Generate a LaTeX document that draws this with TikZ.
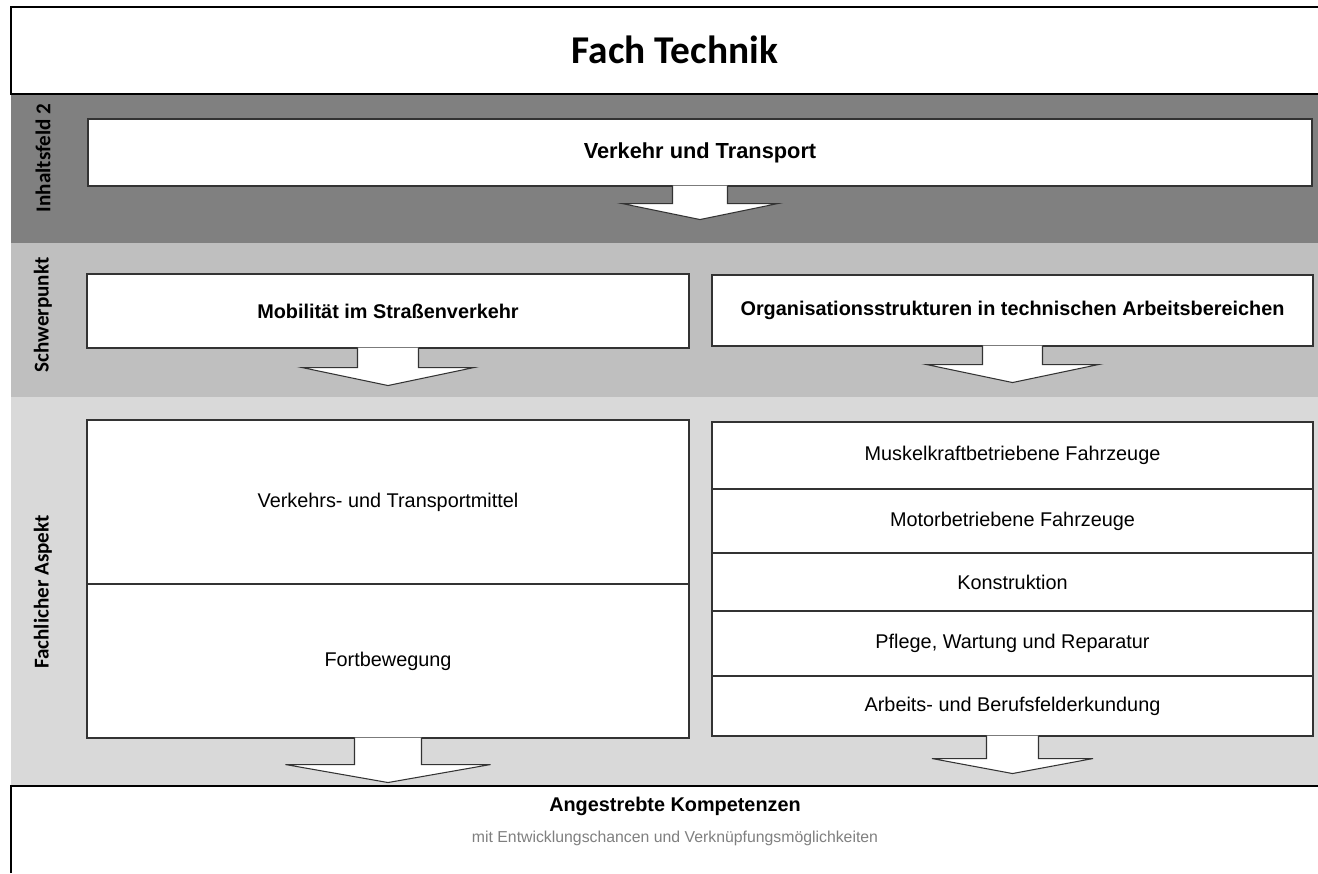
\documentclass[tikz,border=0pt]{standalone}
\usepackage{fontspec}
\setmainfont{Liberation Sans}
\newfontfamily\calibri{Carlito}
\usetikzlibrary{fit,calc}

\definecolor{bandDark}{HTML}{808080}
\definecolor{bandMid}{HTML}{BFBFBF}
\definecolor{bandLight}{HTML}{D9D9D9}
\definecolor{subGray}{HTML}{7F7F7F}

% box with an open arrow below: node, shaft half width, shaft length, head half width, head length
\newcommand{\boxarrow}[5]{%
  \draw[outline, fill=white] ($(#1.south)+(-#2,-0.8)$) -- ++(0,{#3+0.8}) -- ++({#2-#4},0)
    -- ($(#1.south)+(0,{#3+#5})$) -- ($(#1.south)+(#4,#3)$) -- ++({#2-#4},0) -- ++(0,{-#3-0.8});
}

\begin{document}
\begin{tikzpicture}[x=0.02cm, y=-0.02cm,
    frame/.style = {draw=black, line width=0.7pt},
    outline/.style = {draw=black!80, line width=0.6pt},
    box/.style = {outline, fill=white, inner sep=0pt},
    boldtxt/.style = {font=\fontsize{11.3}{13}\selectfont\bfseries},
    plaintxt/.style = {font=\fontsize{11.3}{13}\selectfont},
    sidelabel/.style = {rotate=90, font=\calibri\fontsize{12}{14}\selectfont\bfseries}]
  \useasboundingbox (0,0) rectangle (1318,873);

  % bands
  \fill[bandDark] (11,94) rectangle (1318,243);
  \fill[bandMid] (11,243) rectangle (1318,397);
  \fill[bandLight] (11,397) rectangle (1318,786);
  \draw[frame] (1318,7) -- (11,7) -- (11,94) -- (1318,94);
  \draw[frame] (11,873) -- (11,786) -- (1318,786);

  \node[font=\calibri\fontsize{22.4}{25}\selectfont\bfseries] (title) at (675,50) {Fach Technik};

  \node[sidelabel] (inhalt) at (43,158) {Inhaltsfeld 2};
  \node[sidelabel] (schwer) at (43,315) {Schwerpunkt};
  \node[sidelabel] (aspekt) at (43,592) {Fachlicher Aspekt};

  % Inhaltsfeld
  \node[box, fit={(88,119) (1312,186)}] (verkehr) {};
  \boxarrow{verkehr}{27.5}{17}{78}{16}
  \node[boldtxt, font=\fontsize{12.4}{14}\selectfont\bfseries] (verkehrtxt) at (verkehr.center) {Verkehr und Transport};

  % Schwerpunkte
  \node[box, fit={(87,274) (689,348)}] (mobil) {};
  \boxarrow{mobil}{30.5}{19}{86}{18}
  \node[boldtxt] (mobiltxt) at (mobil.center) {Mobilität im Straßenverkehr};
  \node[box, fit={(712,275) (1313,346)}] (orga) {};
  \boxarrow{orga}{30}{18}{86}{18}
  \node[boldtxt] (orgatxt) at (orga.center) {Organisationsstrukturen in technischen Arbeitsbereichen};

  % fachliche Aspekte, links
  \node[box, fit={(87,420) (689,584)}] (mittel) {};
  \node[box, fit={(87,584) (689,738)}] (fortb) {};
  \boxarrow{fortb}{33.5}{26}{102.5}{18}
  \node[plaintxt] (mitteltxt) at (mittel.center) {Verkehrs- und Transportmittel};
  \node[plaintxt] (fortbtxt) at (fortb.center) {Fortbewegung};

  % fachliche Aspekte, rechts
  \node[box, fit={(712,422) (1313,489)}] (muskel) {};
  \node[box, fit={(712,489) (1313,553)}] (motor) {};
  \node[box, fit={(712,553) (1313,611)}] (konstr) {};
  \node[box, fit={(712,611) (1313,676)}] (pflege) {};
  \node[box, fit={(712,676) (1313,736)}] (beruf) {};
  \boxarrow{beruf}{26}{22}{80.5}{15}
  \node[plaintxt] (muskeltxt) at (muskel.center) {Muskelkraftbetriebene Fahrzeuge};
  \node[plaintxt] (motortxt) at (motor.center) {Motorbetriebene Fahrzeuge};
  \node[plaintxt] (konstrtxt) at (konstr.center) {Konstruktion};
  \node[plaintxt] (pflegetxt) at (pflege.center) {Pflege, Wartung und Reparatur};
  \node[plaintxt] (beruftxt) at (beruf.center) {Arbeits- und Berufsfelderkundung};

  % Kompetenzen
  \node[boldtxt] (ziel) at (675,806) {Angestrebte Kompetenzen};
  \node[font=\fontsize{9}{11}\selectfont, text=subGray] (zusatz) at (675,838) {mit Entwicklungschancen und Verknüpfungsmöglichkeiten};
\end{tikzpicture}
\end{document}
